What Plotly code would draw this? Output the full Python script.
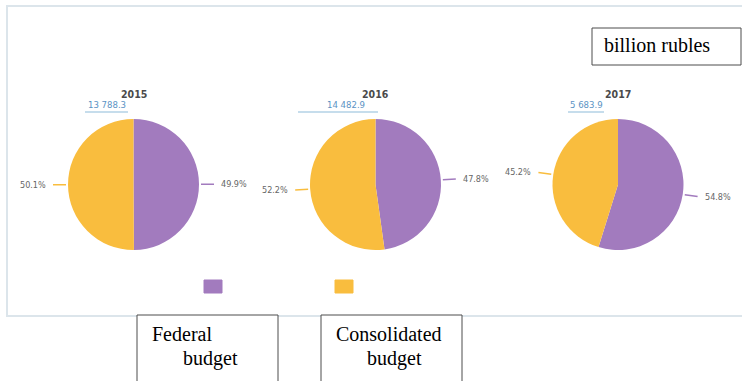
import math
import plotly.graph_objects as go

# ---- data ----
years = ["2015", "2016", "2017"]
totals = ["13 788.3", "14 482.9", "5 683.9"]
categories = ["Federal budget", "Consolidated budget"]
federal_pct = [49.9, 47.8, 54.8]
consolidated_pct = [50.1, 52.2, 45.2]
unit_label = "billion rubles"

colors = ["#A27BBE", "#F9BD3E"]
W, H = 742, 381
OFF = 0  # body margin removed via post_script

# pixel layout of pies (center x, center y, radius) in screen pixels
pie_geo = [(133.5, 184.5, 65.5), (375.5, 184.5, 65.5), (618, 184.5, 65.5)]
total_x = [107, 346, 586]
underline_x = [(85, 128), (298, 378), (568, 604)]

def px(x):
    return (x - OFF) / W

def py(y):
    return 1 - (y - OFF) / H

fig = go.Figure()
shapes = []
annotations = []

# frame
shapes.append(dict(type="rect", xref="paper", yref="paper",
                   x0=px(7), x1=px(770), y0=py(316), y1=py(6),
                   line=dict(color="#DCE5EB", width=2), fillcolor="rgba(0,0,0,0)", layer="below"))

cond = "Liberation Sans Narrow, DejaVu Sans Condensed, Roboto Condensed, Roboto"
label_font = dict(family=cond, size=9, color="#666666")

for i, (cx, cy, r) in enumerate(pie_geo):
    vals = [federal_pct[i], consolidated_pct[i]]
    fig.add_trace(go.Pie(
        values=vals, labels=categories, marker=dict(colors=colors, line=dict(width=0)),
        sort=False, direction="clockwise", rotation=0, textinfo="none", hoverinfo="label+percent",
        domain=dict(x=[px(cx - r), px(cx + r)], y=[py(cy + r), py(cy - r)]),
        showlegend=False,
    ))
    # outside labels with leader lines, computed from the data
    start = 0.0
    tot = sum(vals)
    for v, c in zip(vals, colors):
        mid = (start + v / 2) / tot * 2 * math.pi
        start += v
        sx, sy = math.sin(mid), -math.cos(mid)
        x0, y0 = cx + (r + 2) * sx, cy + (r + 2) * sy
        x1, y1 = cx + (r + 15) * sx, cy + (r + 15) * sy
        shapes.append(dict(type="line", xref="paper", yref="paper",
                           x0=px(x0), y0=py(y0), x1=px(x1), y1=py(y1),
                           line=dict(color=c, width=1.5)))
        tx, ty = cx + (r + 20) * sx, cy + (r + 20) * sy
        annotations.append(dict(xref="paper", yref="paper", x=px(tx), y=py(ty),
                                text=f"{v:.1f}%", showarrow=False,
                                xanchor="left" if sx >= 0 else "right", yanchor="middle",
                                font=label_font))
    # year title
    annotations.append(dict(xref="paper", yref="paper", x=px(cx), y=py(94),
                            text=f"<b>{years[i]}</b>", showarrow=False, xanchor="center", yanchor="middle",
                            font=dict(family=cond, size=10.5, color="#4a4a4a")))
    annotations.append(dict(xref="paper", yref="paper", x=px(total_x[i]), y=py(105),
                            text=totals[i], showarrow=False, xanchor="center", yanchor="middle",
                            font=dict(family=cond, size=9.5, color="#5b93c4")))
    ux0, ux1 = underline_x[i]
    shapes.append(dict(type="line", xref="paper", yref="paper",
                       x0=px(ux0), x1=px(ux1), y0=py(112), y1=py(112),
                       line=dict(color="#8dbbd9", width=1)))

# legend swatches
for c, (lx0, lx1) in zip(colors, [(204, 222), (335, 353)]):
    shapes.append(dict(type="rect", xref="paper", yref="paper",
                       x0=px(lx0), x1=px(lx1), y0=py(293), y1=py(280),
                       line=dict(color=c, width=1), fillcolor=c))

# boxed labels
box_line = dict(color="#4d4d4d", width=1)
serif = dict(family="Liberation Serif, Times New Roman, serif", size=20, color="#000000")
shapes.append(dict(type="rect", xref="paper", yref="paper", x0=px(592), x1=px(741), y0=py(65), y1=py(28),
                   line=box_line, fillcolor="white"))
annotations.append(dict(xref="paper", yref="paper", x=px(602), y=py(45), text=unit_label,
                        showarrow=False, xanchor="left", yanchor="middle", font=serif))

for (bx0, bx1), (t1, t1x), (t2, t2x) in [
    ((137, 278), ("Federal", 150), ("budget", 181)),
    ((321, 462), ("Consolidated", 334), ("budget", 365)),
]:
    shapes.append(dict(type="rect", xref="paper", yref="paper", x0=px(bx0), x1=px(bx1), y0=py(400), y1=py(315),
                       line=box_line, fillcolor="white"))
    annotations.append(dict(xref="paper", yref="paper", x=px(t1x), y=py(334), text=t1,
                            showarrow=False, xanchor="left", yanchor="middle", font=serif))
    annotations.append(dict(xref="paper", yref="paper", x=px(t2x), y=py(358), text=t2,
                            showarrow=False, xanchor="left", yanchor="middle", font=serif))

fig.update_layout(
    width=W, height=H, margin=dict(l=0, r=0, t=0, b=0),
    paper_bgcolor="white", plot_bgcolor="white",
    shapes=shapes, annotations=annotations, showlegend=False,
)

fig.write_html("out.html", config={"displayModeBar": False},
               post_script="document.body.style.margin='0px';")
